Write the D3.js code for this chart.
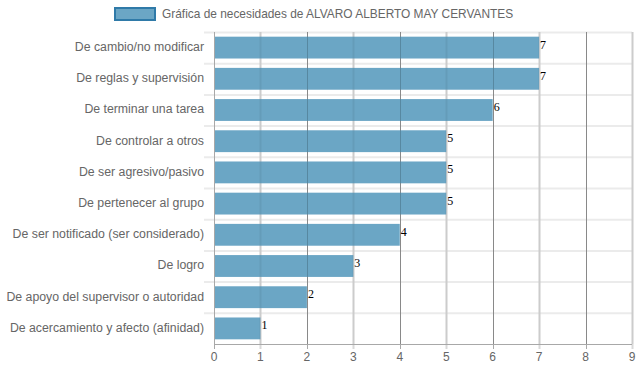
<!DOCTYPE html>
<html>
<head>
<meta charset="utf-8">
<script src="https://cdn.jsdelivr.net/npm/d3@7"></script>
<style>
  body { margin: 0; background: #fff; }
  svg { display: block; font-family: "Liberation Sans", Arial, sans-serif; }
</style>
</head>
<body>
<div id="chart"></div>
<script>
const categories = [
  'De cambio/no modificar',
  'De reglas y supervisión',
  'De terminar una tarea',
  'De controlar a otros',
  'De ser agresivo/pasivo',
  'De pertenecer al grupo',
  'De ser notificado (ser considerado)',
  'De logro',
  'De apoyo del supervisor o autoridad',
  'De acercamiento y afecto (afinidad)'
];
const values = [7, 7, 6, 5, 5, 5, 4, 3, 2, 1];
const xTicks = [0, 1, 2, 3, 4, 5, 6, 7, 8, 9];
const legendLabel = 'Gráfica de necesidades de ALVARO ALBERTO MAY CERVANTES';

const W = 639, H = 372;
const mLeft = 214, mRight = 632, mTop = 32, mBottom = 344;

const svg = d3.select('#chart').append('svg')
  .attr('width', W).attr('height', H);

const x = d3.scaleLinear().domain([0, 9]).range([mLeft, mRight]);
const y = d3.scaleBand().domain(categories).range([mTop, mBottom]).paddingInner(0.3).paddingOuter(0.15);
const band = d3.scaleBand().domain(categories).range([mTop, mBottom]);

// horizontal grid (category boundaries)
svg.append('g').selectAll('line')
  .data(categories)
  .join('line')
  .attr('x1', mLeft - 10).attr('x2', mRight)
  .attr('y1', d => band(d) + 0.5).attr('y2', d => band(d) + 0.5)
  .attr('stroke', '#ebebeb').attr('stroke-width', 2);

// vertical grid
svg.append('g').selectAll('line')
  .data(xTicks)
  .join('line')
  .attr('x1', d => Math.round(x(d)) + 0.5).attr('x2', d => Math.round(x(d)) + 0.5)
  .attr('y1', mTop).attr('y2', mBottom + 5)
  .attr('stroke', d => (d % 2 === 0 ? '#a8a8a8' : '#d9d9d9'))
  .attr('stroke-width', d => (d % 2 === 0 ? 1 : 2));

// bars
svg.append('g').selectAll('rect')
  .data(values)
  .join('rect')
  .attr('x', x(0))
  .attr('y', (d, i) => y(categories[i]))
  .attr('width', d => x(d) - x(0))
  .attr('height', y.bandwidth())
  .attr('fill', '#6ba6c5');

// grid lines show faintly through the bars
svg.append('g').selectAll('line')
  .data(xTicks.filter(d => d > 0))
  .join('line')
  .attr('x1', d => Math.round(x(d)) + 0.5).attr('x2', d => Math.round(x(d)) + 0.5)
  .attr('y1', mTop).attr('y2', mBottom)
  .attr('stroke', '#000')
  .attr('stroke-opacity', d => (d % 2 === 0 ? 0.18 : 0.06))
  .attr('stroke-width', d => (d % 2 === 0 ? 1 : 2));

// axis lines
svg.append('line')
  .attr('x1', mLeft + 0.5).attr('x2', mLeft + 0.5)
  .attr('y1', mTop).attr('y2', mBottom + 5)
  .attr('stroke', '#a8a8a8');
svg.append('line')
  .attr('x1', mLeft).attr('x2', mRight)
  .attr('y1', mBottom + 0.5).attr('y2', mBottom + 0.5)
  .attr('stroke', '#a8a8a8');

// value labels
svg.append('g').selectAll('text')
  .data(values)
  .join('text')
  .attr('x', d => x(d) + 1)
  .attr('y', (d, i) => y(categories[i]) + y.bandwidth() / 2 + 1)
  .attr('font-family', '"Liberation Serif", "Times New Roman", serif')
  .attr('font-size', 12)
  .attr('fill', '#000')
  .text(d => d);

// y labels
svg.append('g').selectAll('text')
  .data(categories)
  .join('text')
  .attr('x', 204)
  .attr('y', d => band(d) + band.bandwidth() / 2 - 1)
  .attr('dy', '0.35em')
  .attr('text-anchor', 'end')
  .attr('font-size', 12.3)
  .attr('fill', '#666')
  .text(d => d);

// x tick labels
svg.append('g').selectAll('text')
  .data(xTicks)
  .join('text')
  .attr('x', d => x(d))
  .attr('y', 357)
  .attr('dy', '0.35em')
  .attr('text-anchor', 'middle')
  .attr('font-size', 12)
  .attr('fill', '#666')
  .text(d => d);

// legend
svg.append('rect')
  .attr('x', 115).attr('y', 8)
  .attr('width', 40).attr('height', 12)
  .attr('fill', '#6ba6c5')
  .attr('stroke', '#2f7aa8').attr('stroke-width', 2);
svg.append('text')
  .attr('x', 162).attr('y', 14)
  .attr('dy', '0.35em')
  .attr('font-size', 11.9)
  .attr('fill', '#666')
  .text(legendLabel);
</script>
</body>
</html>
